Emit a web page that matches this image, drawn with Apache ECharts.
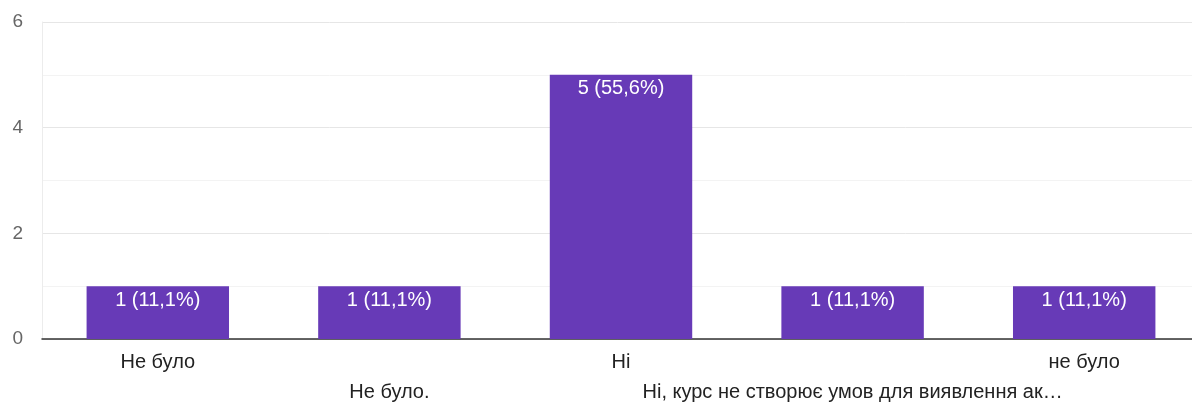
<!DOCTYPE html>
<html><head><meta charset="utf-8">
<script src="https://cdn.jsdelivr.net/npm/echarts@6/dist/echarts.min.js"></script>
<style>html,body{margin:0;padding:0;background:#fff}#c{width:1192px;height:403px}</style>
</head><body><div id="c"></div>
<script>
const categories = ["Не було", "Не було.", "Ні", "Ні, курс не створює умов для виявлення ак…", "не було"];
const values = [1, 1, 5, 1, 1];
const percents = ["11,1%", "11,1%", "55,6%", "11,1%", "11,1%"];
const yTicks = { min: 0, max: 6, interval: 2 };

const FONT = '"Liberation Sans", Arial, sans-serif';
const chart = echarts.init(document.getElementById('c'), null, {renderer: 'canvas'});
chart.setOption({
  animation: false,
  grid: { left: 42, right: -8, top: 22, bottom: 64, containLabel: false, outerBoundsMode: 'none' },
  xAxis: {
    type: 'category', data: categories,
    axisLine: { show: true, lineStyle: { color: '#333', width: 1.5 } },
    axisTick: { show: false },
    axisLabel: {
      interval: 0, color: '#222', fontSize: 20, fontFamily: FONT,
      margin: 8, lineHeight: 30, hideOverlap: false,
      formatter: (v, i) => (i % 2 === 1 ? '\n' + v : v)
    }
  },
  yAxis: {
    type: 'value', min: yTicks.min, max: yTicks.max, interval: yTicks.interval,
    axisLine: { show: true, lineStyle: { color: '#ececec' } },
    axisTick: { show: false },
    axisLabel: { color: '#666', fontSize: 19, margin: 19, fontFamily: FONT },
    splitLine: { lineStyle: { color: '#e6e6e6' } },
    minorTick: { show: false, splitNumber: 2 },
    minorSplitLine: { show: true, lineStyle: { color: '#f3f3f3' } }
  },
  series: [{
    type: 'bar', data: values, barCategoryGap: '38.5%',
    itemStyle: { color: '#673ab7' },
    label: {
      show: true, position: 'insideTop', distance: 4, color: '#fff', fontSize: 20,
      fontFamily: FONT,
      formatter: p => p.value + ' (' + percents[p.dataIndex] + ')'
    }
  }]
});
</script></body></html>
